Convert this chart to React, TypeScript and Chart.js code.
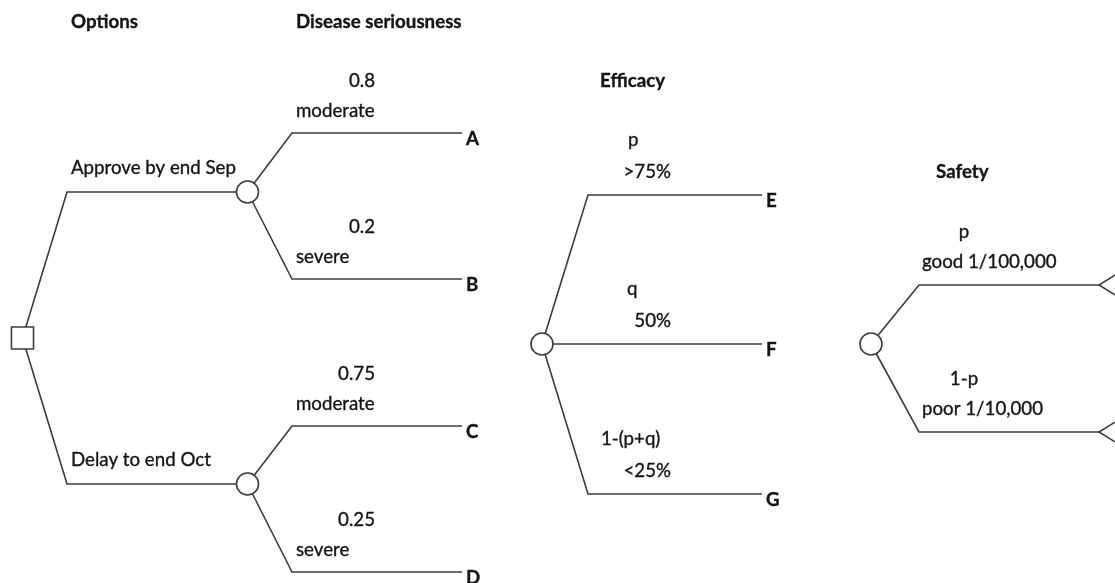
import { useEffect, useRef } from "react";
import { Chart, registerables } from "chart.js";

Chart.register(...registerables);

// ---------- text content ----------
const columnTitles = ["Options", "Disease seriousness", "Efficacy", "Safety"];
const optionLabels = ["Approve by end Sep", "Delay to end Oct"];
const seriousnessProbs = ["0.8", "0.2", "0.75", "0.25"];
const seriousnessLabels = ["moderate", "severe", "moderate", "severe"];
const seriousnessOutcomes = ["A", "B", "C", "D"];
const efficacyProbs = ["p", "q", "1-(p+q)"];
const efficacyLabels = [">75%", "50%", "<25%"];
const efficacyOutcomes = ["E", "F", "G"];
const safetyProbs = ["p", "1-p"];
const safetyLabels = ["good 1/100,000", "poor 1/10,000"];

// ---------- tree geometry (diagram units) ----------
const decisionNode = { x: 22.5, y: 338 };
const optionElbowX = 67;
const optionY = [192, 484];
const chanceX = 247.5;
const seriousnessElbowX = 292;
const seriousnessEndX = 462;
const seriousnessY = [133, 279, 426, 572];

const efficacyNode = { x: 542, y: 344 };
const efficacyElbowX = 588;
const efficacyEndX = 762;
const efficacyY = [195, 344, 494];

const safetyNode = { x: 871, y: 344 };
const safetyElbowX = 919;
const safetyEndX = 1099;
const safetyY = [285, 432];

const titleX = [71, 296, 600, 936];
const titleY = [28, 28, 87, 178];
const efficacyProbX = [628, 627, 601];
const safetyProbX = 964;
const safetyLabelX = 922;

const LINE = "#3c3c3c";
const TEXT = "#151515";
const FONT = "Lato, 'Noto Sans', sans-serif";
const FS = 18.7;

type P = { x: number; y: number };

function lineDs(points: P[]) {
  return {
    type: "line" as const,
    data: points,
    showLine: true,
    borderColor: LINE,
    borderWidth: 1.6,
    pointRadius: 0,
    tension: 0,
    fill: false,
    order: 2,
  };
}

type Label = { text: string; x: number; y: number; align: CanvasTextAlign; bold?: boolean };

export default function App() {
  const ref = useRef<HTMLCanvasElement | null>(null);

  useEffect(() => {
    if (!ref.current) return;

    const datasets: any[] = [];
    optionY.forEach((y) => {
      datasets.push(lineDs([decisionNode, { x: optionElbowX, y }, { x: chanceX, y }]));
    });
    seriousnessY.forEach((y, i) => {
      const parentY = optionY[Math.floor(i / 2)];
      datasets.push(
        lineDs([{ x: chanceX, y: parentY }, { x: seriousnessElbowX, y }, { x: seriousnessEndX, y }])
      );
    });
    efficacyY.forEach((y) => {
      datasets.push(lineDs([efficacyNode, { x: efficacyElbowX, y }, { x: efficacyEndX, y }]));
    });
    safetyY.forEach((y) => {
      datasets.push(lineDs([safetyNode, { x: safetyElbowX, y }, { x: safetyEndX, y }]));
      datasets.push(lineDs([{ x: 1125, y: y - 16 }, { x: safetyEndX, y }, { x: 1125, y: y + 16 }]));
    });
    datasets.push({
      type: "scatter",
      data: [...optionY.map((y) => ({ x: chanceX, y })), efficacyNode, safetyNode],
      pointStyle: "circle",
      pointRadius: 11,
      pointBackgroundColor: "#ffffff",
      pointBorderColor: LINE,
      pointBorderWidth: 1.6,
      order: 0,
    });
    datasets.push({
      type: "scatter",
      data: [decisionNode],
      pointStyle: "rect",
      pointRadius: 15.6,
      pointBackgroundColor: "#ffffff",
      pointBorderColor: LINE,
      pointBorderWidth: 1.6,
      order: 0,
    });

    const labels: Label[] = [];
    columnTitles.forEach((t, i) =>
      labels.push({ text: t, x: titleX[i], y: titleY[i], align: "left", bold: true })
    );
    optionLabels.forEach((t, i) =>
      labels.push({ text: t, x: 71, y: optionY[i] - 18, align: "left" })
    );
    seriousnessY.forEach((y, i) => {
      labels.push({ text: seriousnessProbs[i], x: 375, y: y - 46, align: "right" });
      labels.push({ text: seriousnessLabels[i], x: 296, y: y - 16, align: "left" });
      labels.push({ text: seriousnessOutcomes[i], x: seriousnessEndX + 4, y: y + 12, align: "left", bold: true });
    });
    efficacyY.forEach((y, i) => {
      labels.push({ text: efficacyProbs[i], x: efficacyProbX[i], y: y - 49, align: "left" });
      labels.push({ text: efficacyLabels[i], x: 671, y: y - 17, align: "right" });
      labels.push({ text: efficacyOutcomes[i], x: efficacyEndX + 4, y: y + 12, align: "left", bold: true });
    });
    safetyY.forEach((y, i) => {
      labels.push({ text: safetyProbs[i], x: safetyProbX, y: y - 47, align: "center" });
      labels.push({ text: safetyLabels[i], x: safetyLabelX, y: y - 17, align: "left" });
    });

    const textPlugin = {
      id: "treeText",
      afterDatasetsDraw(chart: any) {
        const { ctx, scales } = chart;
        ctx.save();
        ctx.fillStyle = TEXT;
        ctx.strokeStyle = TEXT;
        ctx.lineWidth = 0.35;
        ctx.lineJoin = "round";
        ctx.textBaseline = "alphabetic";
        labels.forEach((l) => {
          ctx.font = `${l.bold ? "bold " : ""}${FS}px ${FONT}`;
          ctx.textAlign = l.align;
          const px = scales.x.getPixelForValue(l.x);
          const py = scales.y.getPixelForValue(l.y);
          ctx.fillText(l.text, px, py);
          ctx.strokeText(l.text, px, py);
        });
        ctx.restore();
      },
    };

    const chart = new Chart(ref.current, {
      type: "scatter",
      data: { datasets },
      options: {
        animation: false,
        responsive: false,
        maintainAspectRatio: false,
        layout: { padding: 0, autoPadding: false },
        plugins: { legend: { display: false }, tooltip: { enabled: false } },
        scales: {
          x: { type: "linear", min: 0, max: 1115, display: false },
          y: { type: "linear", min: 0, max: 583, reverse: true, display: false },
        },
      },
      plugins: [textPlugin],
    });
    return () => chart.destroy();
  }, []);

  return (
    <div style={{ position: "fixed", left: 0, top: 0, width: 1115, height: 583, background: "#fff" }}>
      <canvas ref={ref} width={1115} height={583} />
    </div>
  );
}
